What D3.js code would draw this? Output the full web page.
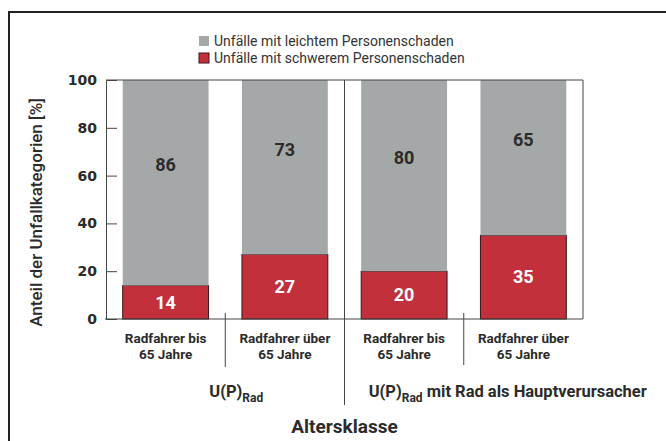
<!DOCTYPE html>
<html>
<head>
<meta charset="utf-8">
<script src="https://cdn.jsdelivr.net/npm/d3@7"></script>
<style>
  html, body { margin: 0; padding: 0; background: #fff; }
  svg { display: block; font-family: Roboto, "Open Sans", sans-serif; }
</style>
</head>
<body>
<div id="chart"></div>
<script>
// Werte aus der Vorlage
const categories = ['Radfahrer bis 65 Jahre', 'Radfahrer über 65 Jahre', 'Radfahrer bis 65 Jahre (H)', 'Radfahrer über 65 Jahre (H)'];
const catLines = [['Radfahrer bis', '65 Jahre'], ['Radfahrer über', '65 Jahre'], ['Radfahrer bis', '65 Jahre'], ['Radfahrer über', '65 Jahre']];
const schwer = [14, 27, 20, 35];
const leicht = [86, 73, 80, 65];
const groupNames = ['', ' mit Rad als Hauptverursacher'];
const seriesNames = ['Unfälle mit leichtem Personenschaden', 'Unfälle mit schwerem Personenschaden'];
const yTicks = [0, 20, 40, 60, 80, 100];

const W = 666, H = 441;
const margin = { top: 80, right: 83, bottom: 122, left: 106 };
const w = W - margin.left - margin.right;
const h = H - margin.top - margin.bottom;

const colors = { leicht: '#a5a8a8', schwer: '#c1303b', line: '#444', text: '#2b2b2b' };

const rows = categories.map((c, i) => ({ cat: c, schwer: schwer[i], leicht: leicht[i] }));
const stack = d3.stack().keys(['schwer', 'leicht'])(rows);

const svg = d3.select('#chart').append('svg').attr('width', W).attr('height', H);

// äusserer Rahmen (oben und links)
svg.append('path')
  .attr('d', `M9,${H} V12 H${W}`)
  .attr('fill', 'none').attr('stroke', '#222').attr('stroke-width', 2);

const g = svg.append('g').attr('transform', `translate(${margin.left},${margin.top})`);

const x = d3.scaleBand().domain(categories).range([0, w]).paddingInner(0.28).paddingOuter(0.14);
const y = d3.scaleLinear().domain([0, 100]).range([h, 0]);
const step = x.step();
const boundary = i => x(categories[i]) - step * 0.14;

// Balken
const layers = g.selectAll('.layer').data(stack).join('g')
  .attr('fill', d => colors[d.key]);

layers.selectAll('rect').data(d => d.map(v => Object.assign(v, { key: d.key }))).join('rect')
  .attr('x', d => x(d.data.cat))
  .attr('y', d => y(d[1]))
  .attr('width', x.bandwidth())
  .attr('height', d => y(d[0]) - y(d[1]))
  .attr('stroke', d => d.key === 'schwer' ? '#3b1518' : 'none')
  .attr('stroke-width', 1);

// Wertebeschriftung
layers.selectAll('text').data(d => d).join('text')
  .attr('x', d => x(d.data.cat) + x.bandwidth() / 2)
  .attr('y', d => d.key === 'schwer' ? (y(d[0]) + y(d[1])) / 2 : (y(d[0]) + y(d[1])) / 2 - 18)
  .attr('dy', '0.35em')
  .attr('text-anchor', 'middle')
  .attr('font-size', 18).attr('font-weight', 700)
  .attr('fill', d => d.key === 'schwer' ? '#fff' : colors.text)
  .text(d => d[1] - d[0]);

// Rahmen des Diagramms
g.append('path')
  .attr('d', `M0,0 H${w} V${h}`)
  .attr('fill', 'none').attr('stroke', colors.line).attr('stroke-width', 1);

// Y-Achse
const yAxis = g.append('g')
  .call(d3.axisLeft(y).tickValues(yTicks).tickSize(-11).tickPadding(20));
yAxis.select('.domain').attr('stroke', colors.line);
yAxis.selectAll('.tick line').attr('stroke', colors.line)
  .filter(d => d === 0 || d === 100).remove();
yAxis.selectAll('.tick text')
  .attr('font-family', '"DejaVu Sans", sans-serif')
  .attr('font-size', 14).attr('font-weight', 700).attr('fill', colors.text)
  .attr('x', -9);

// X-Grundlinie
g.append('line').attr('x1', -1).attr('x2', w).attr('y1', h).attr('y2', h)
  .attr('stroke', colors.line);

// Trennlinien zwischen Kategorien und Gruppen
const sep = [
  { x: boundary(1), y1: h - 6, y2: h + 48 },
  { x: boundary(2), y1: 0, y2: h + 86 },
  { x: boundary(3), y1: h - 6, y2: h + 46 }
];
g.selectAll('.sep').data(sep).join('line')
  .attr('x1', d => d.x).attr('x2', d => d.x)
  .attr('y1', d => d.y1).attr('y2', d => d.y2)
  .attr('stroke', colors.line).attr('stroke-width', 1);

// Kategorienbeschriftung
const catLbl = g.selectAll('.cat').data(categories).join('text')
  .attr('text-anchor', 'middle')
  .attr('font-size', 13.5).attr('font-weight', 700).attr('fill', colors.text)
  .attr('transform', d => `translate(${x(d) + x.bandwidth() / 2},${h + 24})`);
catLbl.selectAll('tspan').data((d, i) => catLines[i]).join('tspan')
  .attr('x', 0).attr('dy', (d, i) => i === 0 ? 0 : 16)
  .text(d => d);

// Gruppenbeschriftung U(P)Rad
const groupX = [boundary(1) + 11, boundary(3) + 44];
groupNames.forEach((name, i) => {
  const t = g.append('text')
    .attr('x', groupX[i]).attr('y', h + 78)
    .attr('text-anchor', 'middle')
    .attr('font-size', 16.5).attr('font-weight', 700).attr('fill', colors.text);
  t.append('tspan').text('U(P)');
  t.append('tspan').attr('font-size', 12).attr('dy', 5).text('Rad');
  if (name) t.append('tspan').attr('dy', -5).text(name);
});

// Achsentitel
g.append('text')
  .attr('x', boundary(2)).attr('y', h + 114)
  .attr('text-anchor', 'middle')
  .attr('font-size', 19).attr('font-weight', 700).attr('fill', colors.text)
  .text('Altersklasse');

g.append('text')
  .attr('transform', `translate(${-64},${h / 2 + 13}) rotate(-90)`)
  .attr('text-anchor', 'middle')
  .attr('font-size', 17).attr('font-weight', 500).attr('fill', colors.text)
  .text('Anteil der Unfallkategorien [%]');

// Legende
const legend = svg.append('g').attr('transform', 'translate(199,36)');
const legendItems = [
  { name: seriesNames[0], fill: colors.leicht, stroke: 'none' },
  { name: seriesNames[1], fill: colors.schwer, stroke: '#3b1518' }
];
const li = legend.selectAll('g').data(legendItems).join('g')
  .attr('transform', (d, i) => `translate(0,${i * 17})`);
li.append('rect').attr('width', 10).attr('height', 10)
  .attr('fill', d => d.fill).attr('stroke', d => d.stroke);
li.append('text').attr('x', 15).attr('y', 5).attr('dy', '0.35em')
  .attr('font-size', 14).attr('fill', '#333')
  .text(d => d.name);
</script>
</body>
</html>
